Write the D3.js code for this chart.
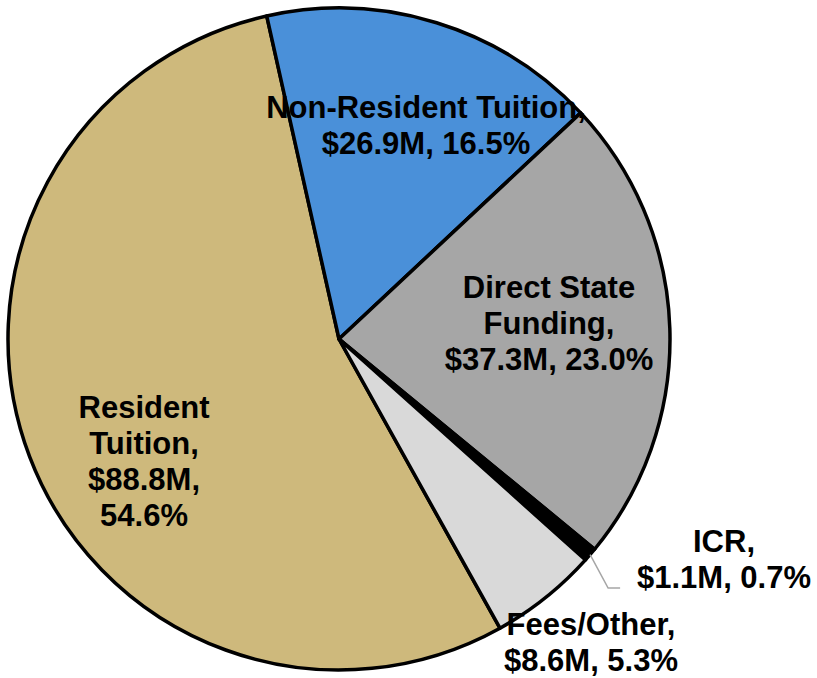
<!DOCTYPE html>
<html>
<head>
<meta charset="utf-8">
<script src="https://d3js.org/d3.v7.min.js"></script>
<style>
  body { margin: 0; background: #fff; }
  svg { display: block; }
  .lbl { font-family: "Liberation Sans", Arial, sans-serif; font-weight: bold; font-size: 31px; fill: #000; }
</style>
</head>
<body>
<svg id="pie" width="817" height="678"></svg>
<script>
    // data (clockwise order, starting at the Resident Tuition slice)
    var categories = ["Resident Tuition", "Non-Resident Tuition", "Direct State Funding", "ICR", "Fees/Other"];
    var amounts = [88.8, 26.9, 37.3, 1.1, 8.6];          // $M
    var percents = [54.6, 16.5, 23.0, 0.7, 5.3];         // % of total
    var colors = ["#CEB97C", "#4A90D9", "#A6A6A6", "#000000", "#D9D9D9"];

    // label lines, as printed
    var labelLines = [
        ["Resident", "Tuition,", "$88.8M,", "54.6%"],
        ["Non-Resident Tuition,", "$26.9M, 16.5%"],
        ["Direct State", "Funding,", "$37.3M, 23.0%"],
        ["ICR,", "$1.1M, 0.7%"],
        ["Fees/Other,", "$8.6M, 5.3%"]
    ];

    var svg = d3.select("#pie"),
        cx = 339,
        cy = 339,
        radius = 331,
        lineH = 36;

    // label anchor (x centre, first baseline) relative to pie centre
    var labelPos = [
        [-195, 79],
        [87, -221],
        [210, -41],
        [385, 213],
        [252, 296]
    ];

    var rows = categories.map(function (c, i) {
        return {name: c, value: amounts[i], pct: percents[i], color: colors[i], lines: labelLines[i], pos: labelPos[i]};
    });

    var a0 = 150.9 * Math.PI / 180;

    var pie = d3.pie()
        .sort(null)
        .value(function (d) {return d.value;})
        .startAngle(a0)
        .endAngle(a0 + 2 * Math.PI);

    var arc = d3.arc().innerRadius(0).outerRadius(radius);

    var g = svg.append("g").attr("transform", "translate(" + cx + "," + cy + ")");

    var arcs = pie(rows);

    g.selectAll(".slice")
        .data(arcs)
        .enter()
        .append("path")
        .attr("class", "slice")
        .attr("d", arc)
        .style("fill", function (d) {return d.data.color;})
        .style("stroke", "#000")
        .style("stroke-width", 3.5)
        .style("stroke-linejoin", "round");

    // leader line for ICR (small slice, label outside)
    var icr = arcs[3];
    var edge = d3.arc().innerRadius(radius).outerRadius(radius).centroid(icr);
    var ly = labelPos[3][1];
    g.append("polyline")
        .attr("points", [edge, [edge[0] + 18, ly + 36], [edge[0] + 30, ly + 36]].map(function (p) {return p.join(",");}).join(" "))
        .style("fill", "none")
        .style("stroke", "#A6A6A6")
        .style("stroke-width", 1.5);

    //slice labels//
    var label = g.selectAll(".lbl")
        .data(rows)
        .enter()
        .append("text")
        .attr("class", "lbl")
        .attr("text-anchor", "middle");

    label.selectAll("tspan")
        .data(function (d) {return d.lines.map(function (t, j) {return {t: t, j: j, pos: d.pos};});})
        .enter()
        .append("tspan")
        .attr("x", function (d) {return d.pos[0];})
        .attr("y", function (d) {return d.pos[1] + d.j * lineH;})
        .text(function (d) {return d.t;});
</script>
</body>
</html>
